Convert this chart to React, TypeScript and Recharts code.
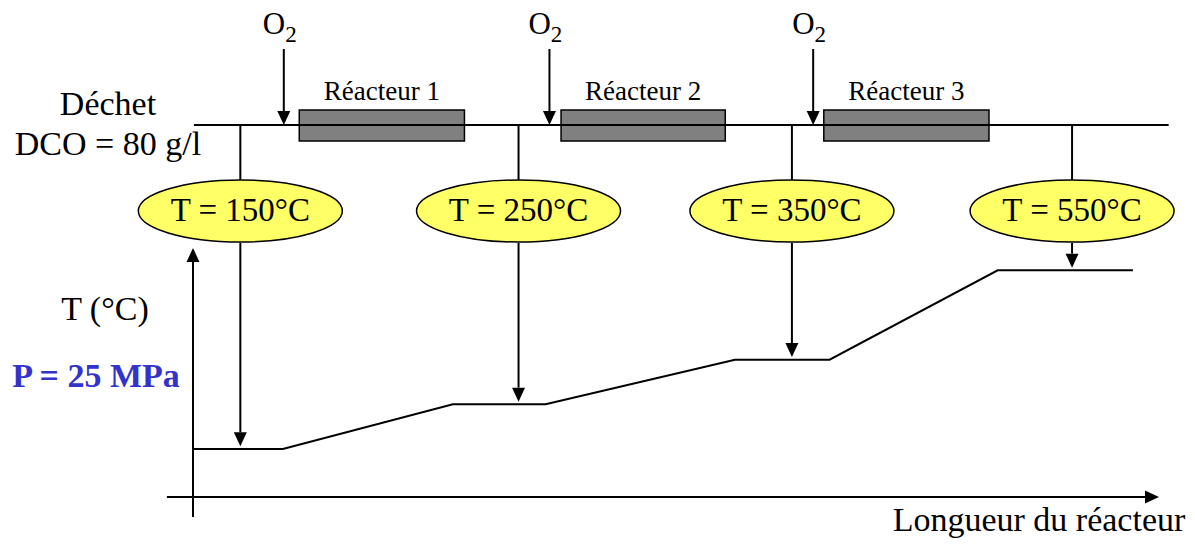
import React from "react";
import { LineChart, Line, XAxis, YAxis, ReferenceLine, ReferenceDot, ReferenceArea, Customized } from "recharts";

// reactor length (arbitrary units, 0..100) and temperature (°C)
const profileLength = [0, 9.3, 26.9, 36.5, 56.1, 65.9, 83.3, 97.3];
const profileTemp = [150, 150, 250, 250, 350, 350, 550, 550];

// temperature probes
const probeLength = [4.9, 33.7, 62.0, 91.0];
const probeTemp = [150, 250, 350, 550];
const probeLabels = ["T = 150°C", "T = 250°C", "T = 350°C", "T = 550°C"];

// oxygen injections and reactors
const o2Length = [9.4, 36.9, 64.2];
const reactorStart = [11.0, 38.1, 65.3];
const reactorEnd = [28.1, 55.1, 82.4];
const reactorLabels = ["Réacteur 1", "Réacteur 2", "Réacteur 3"];

const W = 1195;
const H = 551;
const margin = { top: 248, right: 36, bottom: 35, left: 193 };
const plotH = H - margin.top - margin.bottom;
const T_MAX = 600;
const SERIF = '"Liberation Serif", "Times New Roman", serif';

// pixel row of the drawing -> temperature axis units (for the schematic above the plot)
const yAt = (py: number) => ((H - margin.bottom - py) / plotH) * T_MAX;

const PIPE_Y = 125;

function Arrow(props: any) {
  const { x1, y1, x2, y2 } = props;
  const dx = x2 - x1;
  const dy = y2 - y1;
  const len = Math.hypot(dx, dy) || 1;
  const ux = dx / len;
  const uy = dy / len;
  const head = 14;
  const half = 6.5;
  const bx = x2 - ux * head;
  const by = y2 - uy * head;
  return (
    <g>
      <line x1={x1} y1={y1} x2={bx} y2={by} stroke="#000" strokeWidth={2} />
      <polygon
        points={`${x2},${y2} ${bx - uy * half},${by + ux * half} ${bx + uy * half},${by - ux * half}`}
        fill="#000"
      />
    </g>
  );
}

function O2Arrow(props: any) {
  return (
    <g>
      <Arrow {...props} />
      <text x={props.x1 - 21} y={34} fontFamily={SERIF} fontSize={31} fill="#000">
        O<tspan fontSize={23} dy={8}>2</tspan>
      </text>
    </g>
  );
}

function Captions() {
  return (
    <g fontFamily={SERIF} fill="#000">
      <text x={108} y={115} textAnchor="middle" fontSize={34}>Déchet</text>
      <text x={108} y={155} textAnchor="middle" fontSize={34}>DCO = 80 g/l</text>
      <text x={105} y={320} textAnchor="middle" fontSize={34}>T (°C)</text>
      <text x={96} y={387} textAnchor="middle" fontSize={34} fontWeight="bold" fill="#3333CC">P = 25 MPa</text>
      <text x={1039} y={531} textAnchor="middle" fontSize={34}>Longueur du réacteur</text>
    </g>
  );
}

export default function App() {
  const rows = profileLength.map((l, i) => ({ length: l, temp: profileTemp[i] }));

  return (
    <div style={{ position: "absolute", left: 0, top: 0, width: W, height: H, background: "#fff" }}>
      <LineChart width={W} height={H} data={rows} margin={margin}>
        <XAxis type="number" dataKey="length" domain={[0, 100]} hide allowDataOverflow />
        <YAxis type="number" domain={[0, T_MAX]} hide allowDataOverflow />

        {/* pipe */}
        <ReferenceLine
          segment={[{ x: 0.1, y: yAt(PIPE_Y) }, { x: 101, y: yAt(PIPE_Y) }]}
          stroke="#000"
          strokeWidth={2}
          ifOverflow="visible"
        />

        {reactorLabels.map((label, i) => (
          <ReferenceArea
            key={label}
            x1={reactorStart[i]}
            x2={reactorEnd[i]}
            y1={yAt(141)}
            y2={yAt(110)}
            ifOverflow="visible"
            shape={(p: any) => (
              <g>
                <rect x={p.x} y={p.y} width={p.width} height={p.height} fill="#808080" stroke="#000" strokeWidth={1.5} />
                <text x={p.x + p.width / 2} y={p.y - 10} textAnchor="middle" fontFamily={SERIF} fontSize={27} fill="#000">
                  {label}
                </text>
              </g>
            )}
          />
        ))}

        {o2Length.map((l) => (
          <ReferenceLine
            key={`o2-${l}`}
            segment={[{ x: l, y: yAt(49) }, { x: l, y: yAt(PIPE_Y) }]}
            ifOverflow="visible"
            shape={O2Arrow}
          />
        ))}

        {probeLength.map((l) => (
          <ReferenceLine
            key={`tap-${l}`}
            segment={[{ x: l, y: yAt(PIPE_Y) }, { x: l, y: yAt(180) }]}
            stroke="#000"
            strokeWidth={2}
            ifOverflow="visible"
          />
        ))}

        {probeLength.map((l, i) => (
          <ReferenceLine
            key={`probe-${l}`}
            segment={[{ x: l, y: yAt(243) }, { x: l, y: probeTemp[i] + 6 }]}
            ifOverflow="visible"
            shape={Arrow}
          />
        ))}

        {probeLength.map((l, i) => (
          <ReferenceDot
            key={`bubble-${l}`}
            x={l}
            y={yAt(211)}
            ifOverflow="visible"
            shape={(p: any) => (
              <g>
                <ellipse cx={p.cx} cy={p.cy} rx={102} ry={31} fill="#FFFF66" stroke="#000" strokeWidth={1.5} />
                <text x={p.cx} y={p.cy + 10} textAnchor="middle" fontFamily={SERIF} fontSize={33} fill="#000">
                  {probeLabels[i]}
                </text>
              </g>
            )}
          />
        ))}

        {/* axes */}
        <ReferenceLine segment={[{ x: 0, y: yAt(517) }, { x: 0, y: T_MAX }]} ifOverflow="visible" shape={Arrow} />
        <ReferenceLine segment={[{ x: -2.7, y: yAt(497) }, { x: 100, y: yAt(497) }]} ifOverflow="visible" shape={Arrow} />

        <Line
          type="linear"
          dataKey="temp"
          stroke="#000"
          strokeWidth={2}
          dot={false}
          activeDot={false}
          isAnimationActive={false}
        />

        <Customized component={Captions} />
      </LineChart>
    </div>
  );
}
